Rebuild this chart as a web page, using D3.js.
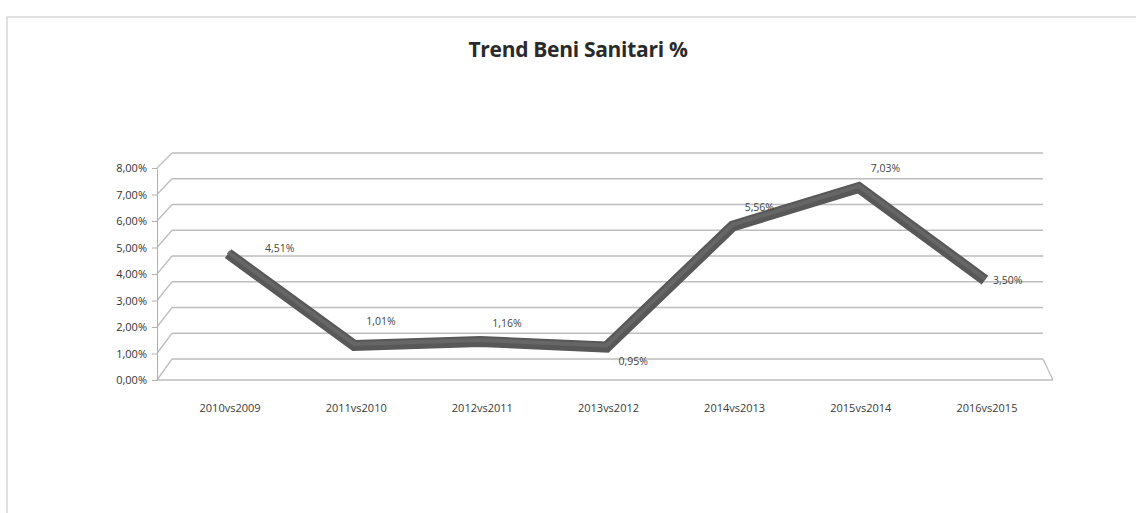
<!DOCTYPE html>
<html><head><meta charset="utf-8">
<script src="https://cdn.jsdelivr.net/npm/d3@7"></script>
<style>
html,body{margin:0;padding:0;background:#fff;}
svg{display:block;}
</style></head>
<body>
<svg id="chart" width="1136" height="513"></svg>
<script>
const categories = ["2010vs2009","2011vs2010","2012vs2011","2013vs2012","2014vs2013","2015vs2014","2016vs2015"];
const values = [4.51, 1.01, 1.16, 0.95, 5.56, 7.03, 3.50];
const yTicks = [0,1,2,3,4,5,6,7,8];
const labelPlacement = ["right","above","above","below","above","above","right"];
const title = "Trend Beni Sanitari %";

const svg = d3.select("#chart");
const fmt = v => d3.format(".2f")(v).replace(".", ",") + "%";

// chart area border
svg.append("rect").attr("x",7).attr("y",17).attr("width",1140).attr("height",520)
  .attr("fill","none").attr("stroke","#c4c4c4").attr("stroke-width",1);

svg.append("text").attr("x",578).attr("y",57).attr("text-anchor","middle")
  .attr("font-family","Open Sans, sans-serif").attr("font-weight","bold")
  .attr("font-size",21).attr("letter-spacing",-0.3).attr("fill","#2a2a2a").text(title);

const depthX = 15;
const x = d3.scaleBand().domain(categories).range([165, 1048]).padding(0);
const yFront = d3.scaleLinear().domain([0,8]).range([380,168]);
const yBack = d3.scaleLinear().domain([0,8]).range([359,153]);
const yLine = d3.scaleLinear().domain([0,8]).range([372,162]);
const frontL = 157, backL = frontL + depthX, backR = 1043, frontR = 1053;

const grid = svg.append("g").attr("stroke","#bdbdbd").attr("stroke-width",1.3).attr("fill","none");
yTicks.forEach(t => {
  grid.append("line").attr("x1",backL).attr("x2",backR).attr("y1",yBack(t)).attr("y2",yBack(t));
  grid.append("line").attr("x1",frontL).attr("x2",backL).attr("y1",yFront(t)).attr("y2",yBack(t));
});
// floor
grid.append("line").attr("x1",frontL).attr("x2",frontR).attr("y1",yFront(0)).attr("y2",yFront(0));
grid.append("line").attr("x1",backR).attr("x2",frontR).attr("y1",yBack(0)).attr("y2",yFront(0));

// y axis
const yAxis = d3.axisLeft(yFront).tickValues(yTicks).tickFormat(fmt).tickSize(5).tickPadding(5);
const ag = svg.append("g").attr("transform",`translate(${frontL},0)`).call(yAxis);
ag.select(".domain").attr("stroke","#b0b0b0");
ag.selectAll(".tick line").attr("stroke","#b0b0b0");
ag.selectAll("text").attr("font-family","Open Sans, sans-serif").attr("font-size",11).attr("fill","#333");

// x labels
svg.append("g").selectAll("text").data(categories).join("text")
  .attr("x", d => x(d) + x.bandwidth()/2 + 2)
  .attr("y", 412).attr("text-anchor","middle")
  .attr("font-family","Open Sans, sans-serif").attr("font-size",11).attr("fill","#3a3a3a")
  .text(d => d);

// line (3D ribbon)
const pts = categories.map((c,i) => [x(c) + x.bandwidth()/2, yLine(values[i])]);
const line = d3.line();
svg.append("path").attr("d", line(pts)).attr("fill","none")
  .attr("stroke","#585858").attr("stroke-width",11).attr("stroke-linejoin","miter");
svg.append("path").attr("d", line(pts.map(p => [p[0], p[1]-1.5]))).attr("fill","none")
  .attr("stroke","#666").attr("stroke-width",4).attr("stroke-linejoin","miter");

// data labels
svg.append("g").selectAll("text").data(values).join("text")
  .attr("x", (v,i) => pts[i][0] + (labelPlacement[i]==="right" ? (i===0 ? 37 : 8) : 12))
  .attr("y", (v,i) => {
    const p = labelPlacement[i];
    return pts[i][1] + (p==="right" ? (i===0 ? -2 : 4) : p==="below" ? 18 : (i===1 ? -20 : -15));
  })
  .attr("text-anchor","start")
  .attr("font-family","Open Sans, sans-serif").attr("font-size",10.5).attr("fill","#444")
  .text(v => fmt(v));
</script>
</body></html>
